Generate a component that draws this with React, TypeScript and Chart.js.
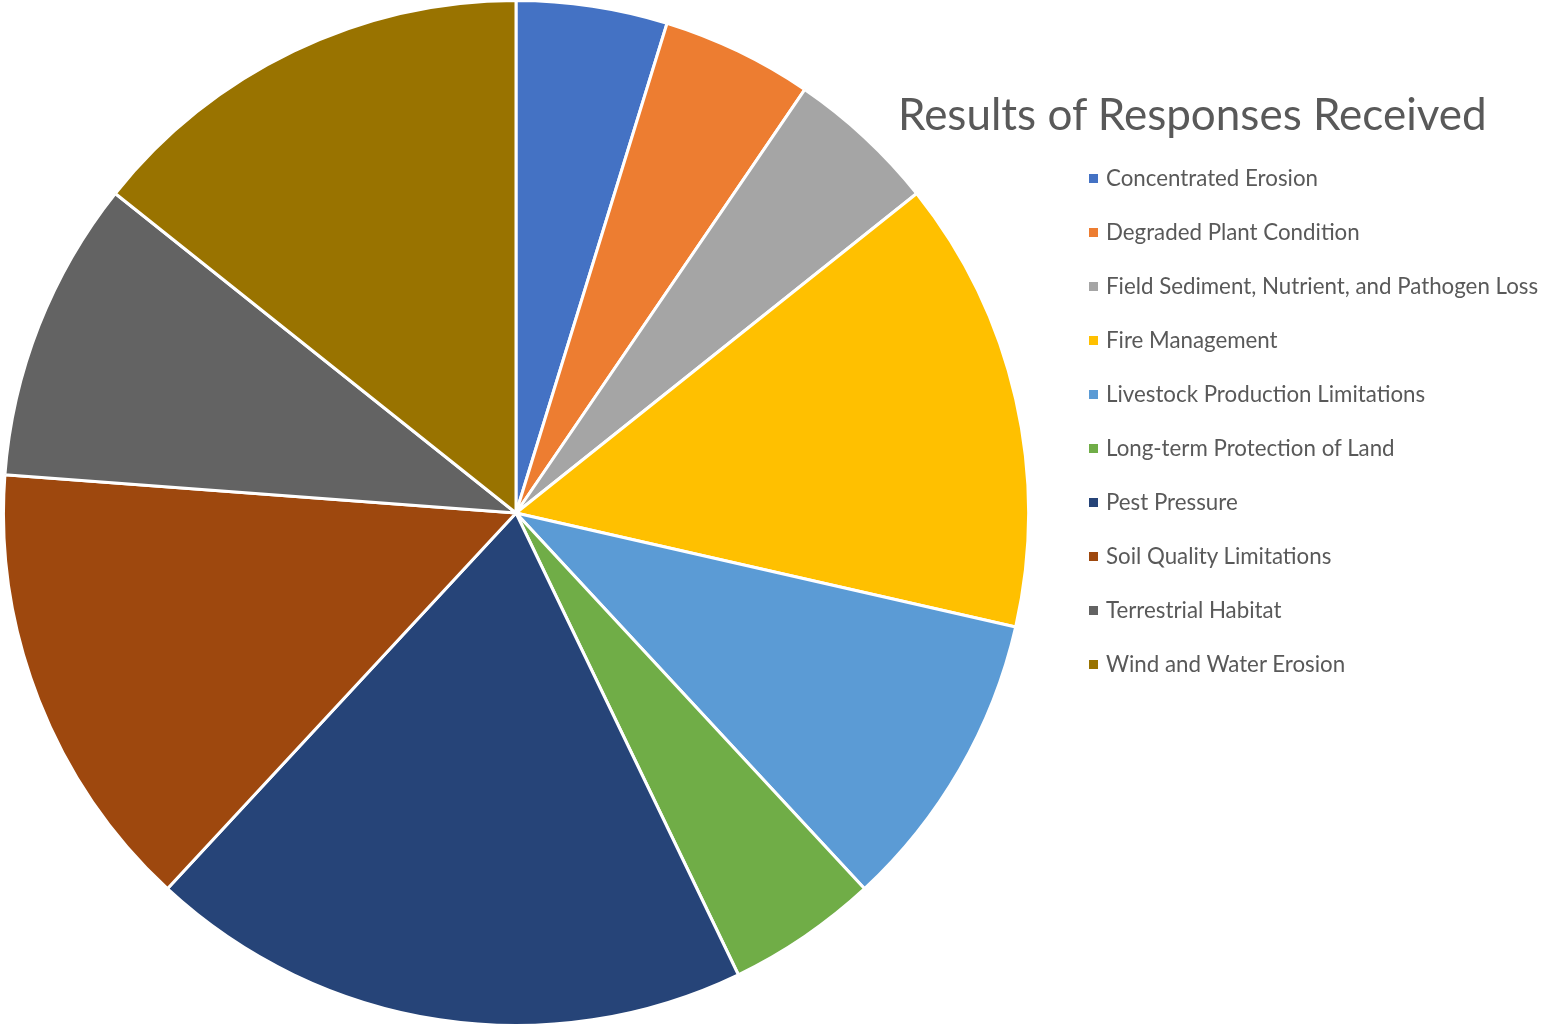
import React, { useEffect, useRef } from "react";
import { Chart, registerables } from "chart.js";

Chart.register(...registerables);

const TITLE = "Results of Responses Received";
const categories = [
  "Concentrated Erosion",
  "Degraded Plant Condition",
  "Field Sediment, Nutrient, and Pathogen Loss",
  "Fire Management",
  "Livestock Production Limitations",
  "Long-term Protection of Land",
  "Pest Pressure",
  "Soil Quality Limitations",
  "Terrestrial Habitat",
  "Wind and Water Erosion",
];
const responses = [1, 1, 1, 3, 2, 1, 4, 3, 2, 3];
const colors = [
  "#4472C4",
  "#ED7D31",
  "#A5A5A5",
  "#FFC000",
  "#5B9BD5",
  "#70AD47",
  "#264478",
  "#9E480E",
  "#636363",
  "#997300",
];

const FONT = "Lato, 'Open Sans', sans-serif";
const TEXT = "#595959";

export default function App() {
  const ref = useRef<HTMLCanvasElement | null>(null);

  useEffect(() => {
    if (!ref.current) return;
    const chart = new Chart(ref.current, {
      type: "pie",
      data: {
        labels: categories,
        datasets: [
          {
            data: responses,
            backgroundColor: colors,
            borderColor: "#FFFFFF",
            borderWidth: 3,
          },
        ],
      },
      options: {
        animation: false,
        responsive: false,
        maintainAspectRatio: false,
        layout: { padding: { left: 2, top: 3, right: 513, bottom: 2 } },
        plugins: {
          legend: { display: false },
          title: { display: false },
          tooltip: { enabled: false },
        },
      },
    });
    return () => chart.destroy();
  }, []);

  return (
    <div
      style={{
        position: "fixed",
        left: 0,
        top: 0,
        width: 1543,
        height: 1025,
        background: "#FFFFFF",
        fontFamily: FONT,
        color: TEXT,
        overflow: "hidden",
      }}
    >
      <canvas
        ref={ref}
        width={1543}
        height={1033}
        style={{ position: "absolute", left: 0, top: -4, width: 1543, height: 1033 }}
      />
      <div
        style={{
          position: "absolute",
          left: 898,
          top: 113 - 30,
          height: 60,
          lineHeight: "60px",
          fontSize: 44,
          whiteSpace: "nowrap",
        }}
      >
        {TITLE}
      </div>
      {categories.map((c, i) => (
        <div
          key={c}
          style={{
            position: "absolute",
            left: 1089,
            top: 179 + 54 * i - 16,
            height: 30,
            display: "flex",
            alignItems: "center",
            whiteSpace: "nowrap",
          }}
        >
          <span
            style={{
              display: "inline-block",
              width: 9,
              height: 9,
              background: colors[i],
              marginRight: 8,
            }}
          />
          <span style={{ fontSize: 22.3, lineHeight: "30px" }}>{c}</span>
        </div>
      ))}
    </div>
  );
}
